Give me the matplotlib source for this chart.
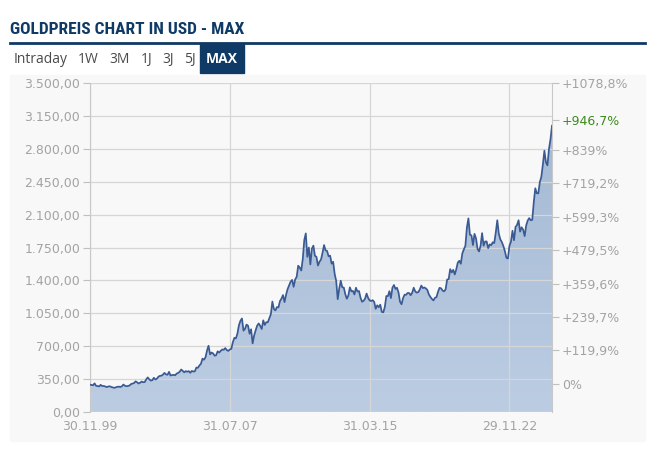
import numpy as np
import matplotlib
matplotlib.use("Agg")
import matplotlib.pyplot as plt
from matplotlib.patches import Rectangle
from matplotlib.colors import LinearSegmentedColormap

prices = [
    291, 288,
    284, 305, 278, 276, 272, 289, 276, 277, 272, 265, 271, 274,
    266, 262, 257, 263, 268, 270, 266, 274, 292, 279, 274, 277,
    282, 297, 303, 308, 326, 316, 303, 312, 324, 316, 319, 347,
    368, 348, 334, 338, 364, 346, 354, 375, 385, 386, 398, 416,
    400, 396, 427, 388, 393, 395, 391, 408, 416, 428, 452, 438,
    422, 435, 428, 435, 417, 437, 430, 433, 473, 470, 495, 513,
    568, 556, 582, 654, 705, 613, 633, 623, 599, 604, 646, 632,
    650, 665, 662, 680, 659, 650, 665, 672, 743, 789, 783, 834,
    923, 971, 995, 865, 885, 930, 918, 833, 880, 730, 814, 869,
    919, 942, 916, 883, 975, 926, 955, 955, 996, 1040, 1175, 1096,
    1081, 1116, 1113, 1180, 1207, 1244, 1169, 1246, 1307, 1346, 1386, 1405,
    1332, 1409, 1439, 1556, 1536, 1505, 1628, 1830, 1900, 1650, 1750, 1570,
    1738, 1770, 1662, 1651, 1558, 1598, 1622, 1693, 1776, 1720, 1714, 1657,
    1663, 1578, 1598, 1469, 1394, 1200, 1314, 1396, 1326, 1324, 1253, 1205,
    1240, 1326, 1284, 1288, 1250, 1322, 1282, 1287, 1216, 1173, 1183, 1206,
    1260, 1214, 1187, 1180, 1190, 1171, 1098, 1135, 1115, 1142, 1065, 1060,
    1118, 1234, 1232, 1285, 1212, 1322, 1351, 1309, 1322, 1272, 1173, 1146,
    1212, 1248, 1247, 1266, 1266, 1242, 1269, 1322, 1283, 1270, 1275, 1303,
    1345, 1318, 1325, 1315, 1298, 1250, 1224, 1202, 1187, 1215, 1222, 1279,
    1321, 1316, 1292, 1283, 1305, 1409, 1413, 1520, 1485, 1512, 1463, 1517,
    1589, 1609, 1577, 1687, 1730, 1768, 1962, 2060, 1886, 1879, 1776, 1895,
    1848, 1734, 1708, 1769, 1903, 1770, 1814, 1814, 1743, 1783, 1775, 1806,
    1797, 1909, 2040, 1897, 1837, 1807, 1766, 1711, 1640, 1633, 1769, 1812,
    1928, 1827, 1969, 1990, 2040, 1919, 1965, 1940, 1871, 1984, 2036, 2063,
    2040, 2044, 2230, 2380, 2327, 2326, 2447, 2503, 2634, 2780, 2657, 2624,
    2798, 2900, 3046,
]
start_year = 1999 + 11 / 12
years = start_year + np.arange(len(prices)) / 12

date_ticks = [1999 + 11 / 12, 2007 + 7 / 12, 2015.25, 2022 + 11 / 12]
date_labels = ["30.11.99", "31.07.07", "31.03.15", "29.11.22"]

usd_ticks = [0, 350, 700, 1050, 1400, 1750, 2100, 2450, 2800, 3150, 3500]
usd_labels = ["0,00", "350,00", "700,00", "1.050,00", "1.400,00", "1.750,00",
              "2.100,00", "2.450,00", "2.800,00", "3.150,00", "3.500,00"]

pct_ticks = [0, 119.9, 239.7, 359.6, 479.5, 599.3, 719.2, 839, 946.7, 1078.8]
pct_labels = ["0%", "+119,9%", "+239,7%", "+359,6%", "+479,5%", "+599,3%",
              "+719,2%", "+839%", "+946,7%", "+1078,8%"]
current_pct = 946.7

tabs = ["Intraday", "1W", "3M", "1J", "3J", "5J"]
tab_x = [14, 78, 109, 141, 162, 184]

W, H = 672, 467
fig = plt.figure(figsize=(W / 100, H / 100), dpi=100)
fig.patch.set_facecolor("white")

def fx(px):
    return px / W

def fy(py):
    return 1 - py / H

navy = "#0f3a66"
grey_txt = "#a3a3a3"

# Titel
fig.text(fx(10), fy(30), "GOLDPREIS CHART IN USD - MAX", color=navy,
         fontsize=12.5, fontweight="bold", fontstretch="condensed",
         va="center", ha="left",
         family=["Roboto Condensed", "Liberation Sans Narrow", "Roboto"])
fig.add_artist(plt.Line2D([fx(10), fx(645)], [fy(43), fy(43)], color=navy, lw=2))

for t, x in zip(tabs, tab_x):
    fig.text(fx(x), fy(59), t, color="#4a4a4a", fontsize=10, va="center",
             ha="left", family="Open Sans")
fig.patches.append(Rectangle((fx(200), fy(73)), fx(44), 30 / H,
                             transform=fig.transFigure, color=navy, zorder=-1))
fig.text(fx(222), fy(59), "MAX", color="white", fontsize=10, fontweight="bold",
         va="center", ha="center", family="Open Sans")

# Panel
bg = "#f8f8f8"
fig.patches.append(Rectangle((fx(10), fy(441)), fx(635), 366 / H,
                             transform=fig.transFigure, color=bg, zorder=-1))

ax = fig.add_axes([fx(90), fy(412), fx(462), 329 / H])
ax.set_facecolor(bg)

poly = ax.fill_between(years, prices, 0, color="none", lw=0)
cmap = LinearSegmentedColormap.from_list("g", ["#bccde3", "#a4b9d4"])
grad = np.linspace(0, 1, 256).reshape(-1, 1)
img = ax.imshow(grad, extent=[years[0], years[-1], 0, 3100], aspect="auto",
                origin="lower", cmap=cmap, zorder=1)
img.set_clip_path(poly.get_paths()[0], transform=ax.transData)
ax.plot(years, prices, color="#3a5a94", lw=1.25, zorder=3)

ax.set_xlim(years[0], years[-1])
ax.set_ylim(0, 3500)
ax.set_yticks(usd_ticks)
ax.set_yticklabels(usd_labels)
ax.set_xticks(date_ticks)
ax.set_xticklabels(date_labels)
ax.grid(True, color="#d6d6d6", lw=0.9)
for g in ax.get_xgridlines() + ax.get_ygridlines():
    g.set_zorder(2)
ax.tick_params(axis="y", length=5, color="#c0c0c0", labelcolor=grey_txt,
               labelsize=9, pad=2)
ax.tick_params(axis="x", length=0, labelcolor=grey_txt, labelsize=9, pad=6)
for s in ["top", "bottom", "right"]:
    ax.spines[s].set_visible(False)
ax.spines["left"].set_color("#c8c8c8")

ax2 = ax.twinx()
ax2.set_ylim(-101.3, 1078.8)
ax2.set_yticks(pct_ticks)
ax2.set_yticklabels(pct_labels)
ax2.tick_params(axis="y", length=5, color="#c0c0c0", labelcolor=grey_txt,
                labelsize=9, pad=2)
for lbl, v in zip(ax2.get_yticklabels(), pct_ticks):
    if v == current_pct:
        lbl.set_color("#3d8a1c")
for s in ["top", "bottom", "left"]:
    ax2.spines[s].set_visible(False)
ax2.spines["right"].set_color("#c8c8c8")

fig.savefig("out.png", dpi=100, facecolor="white")
